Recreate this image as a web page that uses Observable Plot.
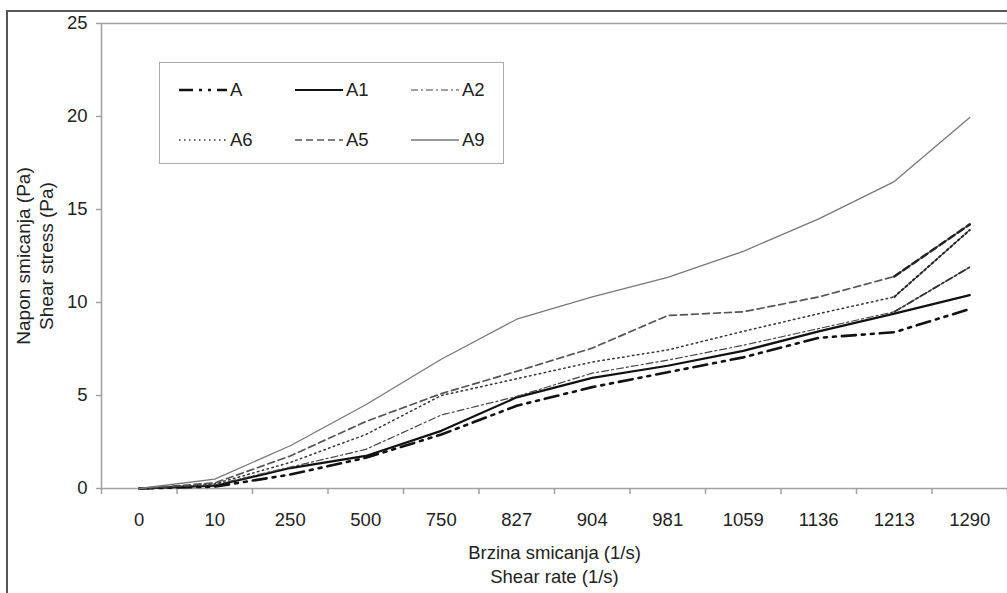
<!DOCTYPE html>
<html><head><meta charset="utf-8">
<script src="https://cdn.jsdelivr.net/npm/d3@7"></script>
<script src="https://cdn.jsdelivr.net/npm/@observablehq/plot@0.6"></script>
<style>
html,body{margin:0;padding:0;background:#fff;}
#wrap{position:relative;width:1007px;height:593px;overflow:hidden;font-family:"Liberation Sans",Arial,sans-serif;}
#wrap > svg{position:absolute;left:0;top:0;}
#frame{position:absolute;left:6px;top:10px;width:1010px;height:600px;border-top:2px solid #555;border-left:2px solid #555;pointer-events:none;}
#legend{position:absolute;left:159px;top:62px;width:345px;height:102px;border:1px solid #a8a8a8;box-sizing:border-box;background:#fff;}
.item{position:absolute;height:24px;display:flex;align-items:center;font-size:18.5px;color:#222;white-space:nowrap;}
.item svg{display:block;margin-right:3px;}
</style></head><body><div id="wrap"></div>
<script>
// ---- data ----
const shearRates = ["0","10","250","500","750","827","904","981","1059","1136","1213","1290"];
const seriesNames = ["A","A1","A2","A6","A5","A9"];
const valuesA  = [0, 0.10, 0.75, 1.65, 2.90, 4.45, 5.45, 6.25, 7.05, 8.10, 8.40, 9.65];
const valuesA1 = [0, 0.15, 1.10, 1.75, 3.10, 4.90, 5.95, 6.60, 7.40, 8.45, 9.40, 10.40];
const valuesA2 = [0, 0.20, 1.15, 2.10, 3.95, 4.95, 6.20, 6.90, 7.70, 8.60, 9.50, 11.90];
const valuesA6 = [0, 0.25, 1.40, 2.90, 5.00, 5.90, 6.80, 7.45, 8.45, 9.40, 10.30, 13.90];
const valuesA5 = [0, 0.30, 1.75, 3.60, 5.10, 6.30, 7.55, 9.30, 9.50, 10.30, 11.40, 14.20];
const valuesA9 = [0, 0.50, 2.30, 4.50, 6.95, 9.10, 10.30, 11.35, 12.75, 14.50, 16.50, 19.95];
const yTicks = [0, 5, 10, 15, 20, 25];
const xTitle = "Brzina smicanja (1/s)\nShear rate (1/s)";
const yTitle = "Napon smicanja (Pa)\nShear stress (Pa)";

// ---- styles ----
const lineStyle = {
  A:  {stroke:"#111", width:2.6, dash:"14,6,3,6,3,6"},
  A1: {stroke:"#111", width:2.2, dash:null},
  A2: {stroke:"#444", width:1.2, dash:"7,3,2,3"},
  A6: {stroke:"#333", width:1.5, dash:"1.5,3.5"},
  A5: {stroke:"#555", width:1.7, dash:"7,4"},
  A9: {stroke:"#777", width:1.3, dash:null}
};
// the last segment of some series is drawn heavier in the original
const lastSegmentStyle = {
  A5: {stroke:"#222", width:2.6},
  A6: {stroke:"#222", width:2.0},
  A2: {stroke:"#333", width:1.8}
};
const seriesValues = {A:valuesA, A1:valuesA1, A2:valuesA2, A6:valuesA6, A5:valuesA5, A9:valuesA9};

const rows = s => seriesValues[s].map((v, i) => ({series: s, i, v}));
const boundaries = d3.range(shearRates.length + 1).map(k => k - 0.5);
const axisColor = "#a0a0a0";
const textColor = "#222";

const lineMarks = seriesNames.map(s => Plot.line(rows(s), {
  x: "i", y: "v", stroke: lineStyle[s].stroke, strokeWidth: lineStyle[s].width,
  strokeDasharray: lineStyle[s].dash || undefined, strokeLinejoin: "round"
}));
const lastMarks = Object.keys(lastSegmentStyle).map(s => Plot.line(rows(s).slice(-2), {
  x: "i", y: "v", stroke: lastSegmentStyle[s].stroke, strokeWidth: lastSegmentStyle[s].width,
  strokeDasharray: lineStyle[s].dash || undefined
}));

const chart = Plot.plot({
  width: 1007, height: 593,
  marginLeft: 101, marginRight: 0, marginTop: 23, marginBottom: 105,
  style: {fontFamily: "'Liberation Sans', Arial, sans-serif", fontSize: "18px", color: textColor, background: "transparent"},
  x: {type: "linear", domain: [-0.5, shearRates.length - 0.5]},
  y: {domain: [0, 25]},
  marks: [
    Plot.ruleY([25], {stroke: axisColor, strokeWidth: 1.5}),
    Plot.ruleY([0], {stroke: axisColor, strokeWidth: 1.5}),
    Plot.ruleX([-0.5], {stroke: axisColor, strokeWidth: 1.5}),
    Plot.axisY({ticks: yTicks, tickSize: 5, tickPadding: 9, stroke: axisColor, strokeWidth: 1.5, fill: textColor, label: null, fontSize: 18.5}),
    Plot.axisX({ticks: boundaries, tickSize: 6, tickFormat: () => "", stroke: axisColor, strokeWidth: 1.5, label: null}),
    Plot.axisX({ticks: d3.range(shearRates.length), tickSize: 0, tickPadding: 24, tickFormat: i => shearRates[i], fill: textColor, label: null, fontSize: 18.5}),
    ...lineMarks,
    ...lastMarks,
    Plot.text([xTitle], {frameAnchor: "bottom", dy: 75, lineAnchor: "middle", textAnchor: "middle", lineHeight: 1.3, fontSize: 18.5, fill: textColor}),
    Plot.text([yTitle], {frameAnchor: "left", dx: -67, rotate: -90, lineAnchor: "middle", textAnchor: "middle", lineHeight: 1.2, fontSize: 19, fill: textColor})
  ]
});
const wrap = document.getElementById("wrap");
wrap.appendChild(chart);

const frame = document.createElement("div");
frame.id = "frame";
wrap.appendChild(frame);

// ---- legend ----
const legend = document.createElement("div");
legend.id = "legend";
seriesNames.forEach((s, k) => {
  const col = k % 3, row = Math.floor(k / 3);
  const item = document.createElement("div");
  item.className = "item";
  item.style.left = (19 + col * 116) + "px";
  item.style.top = (15 + row * 50) + "px";
  const st = lineStyle[s];
  item.innerHTML = `<svg width="48" height="10"><line x1="0" x2="48" y1="5" y2="5" stroke="${st.stroke}" stroke-width="${st.width}" ${st.dash ? `stroke-dasharray="${st.dash}"` : ""}/></svg><span>${s}</span>`;
  legend.appendChild(item);
});
wrap.appendChild(legend);
</script>
</body></html>
